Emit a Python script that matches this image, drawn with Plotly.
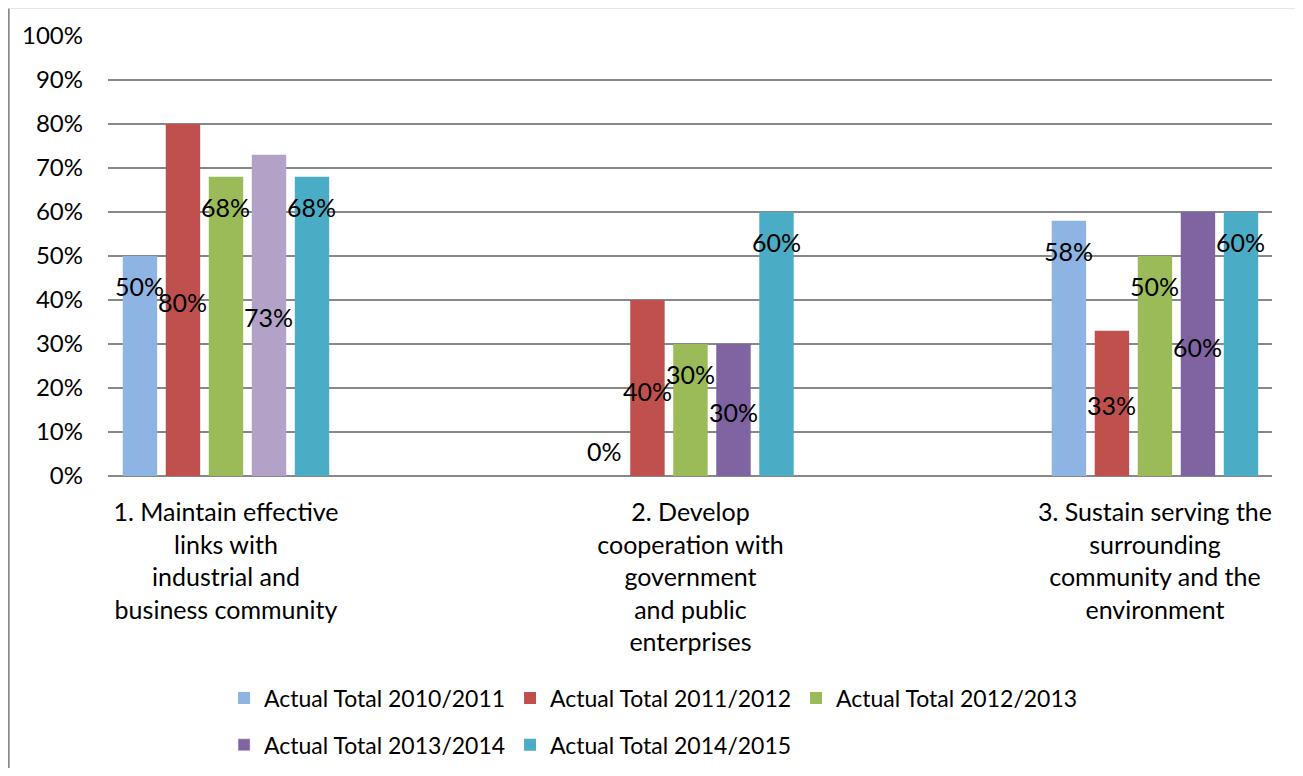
import plotly.graph_objects as go

categories = [
    "1. Maintain effective<br>links with<br>industrial and<br>business community",
    "2. Develop<br>cooperation with<br>government<br>and public<br>enterprises",
    "3. Sustain serving the<br>surrounding<br>community and the<br>environment",
]
series_names = [
    "Actual Total 2010/2011",
    "Actual Total 2011/2012",
    "Actual Total 2012/2013",
    "Actual Total 2013/2014",
    "Actual Total 2014/2015",
]
v_2010_2011 = [0.50, 0.00, 0.58]
v_2011_2012 = [0.80, 0.40, 0.33]
v_2012_2013 = [0.68, 0.30, 0.50]
v_2013_2014 = [0.73, 0.30, 0.60]
v_2014_2015 = [0.68, 0.60, 0.60]
values = [v_2010_2011, v_2011_2012, v_2012_2013, v_2013_2014, v_2014_2015]

# where the (manually placed) data labels sit, in axis units
label_y = [
    [0.432, 0.057, 0.511],
    [0.395, 0.193, 0.161],
    [0.611, 0.232, 0.432],
    [0.361, 0.145, 0.293],
    [0.611, 0.532, 0.532],
]

colors = ["#8EB4E3", "#C0504D", "#9BBB59", "#8064A2", "#4BACC6"]
point_colors = [
    [colors[0]] * 3,
    [colors[1]] * 3,
    [colors[2]] * 3,
    ["#B3A2C7", colors[3], colors[3]],
    [colors[4]] * 3,
]

FONT = "Lato"
FS = 25
LFS = 23

fig = go.Figure()
for i, name in enumerate(series_names):
    fig.add_trace(go.Bar(
        x=categories, y=values[i], name=name,
        marker=dict(color=point_colors[i], line=dict(width=0)),
        offsetgroup=str(i),
        legend="legend" if i < 3 else "legend2",
        showlegend=(i != 3),
        legendrank=1000 + i,
    ))
# legend-only entry for 2013/2014 so its swatch shows the series colour
fig.add_trace(go.Bar(
    x=[None], y=[None], name=series_names[3],
    marker=dict(color=colors[3]), offsetgroup="3",
    legend="legend2", showlegend=True, legendrank=1003,
))

annotations = []
slot_px = 43
for i in range(5):
    for j, c in enumerate(categories):
        annotations.append(dict(
            x=c, y=label_y[i][j], xref="x", yref="y",
            text=f"{round(values[i][j]*100)}%", showarrow=False,
            xshift=(i - 2) * slot_px,
            font=dict(family=FONT, size=FS, color="black"),
        ))

frame = [
    dict(type="line", xref="paper", yref="paper", x0=-0.0855, x1=-0.0855, y0=1.07, y1=-0.8,
         line=dict(color="#898989", width=2.5)),
    dict(type="line", xref="paper", yref="paper", x0=1.0235, x1=1.0235, y0=1.07, y1=-0.8,
         line=dict(color="#898989", width=2.5)),
    dict(type="line", xref="paper", yref="paper", x0=-0.0855, x1=1.0235, y0=1.0625, y1=1.0625,
         line=dict(color="#E6E6E6", width=1)),
]

legend_common = dict(orientation="h", x=0.0997, xanchor="left", yanchor="middle",
                     entrywidth=241, entrywidthmode="pixels",
                     font=dict(family=FONT, size=LFS, color="black"),
                     itemwidth=30, bgcolor="rgba(0,0,0,0)")

fig.update_layout(
    width=1295, height=760,
    margin=dict(l=100, r=31, t=28, b=292, autoexpand=False),
    paper_bgcolor="white", plot_bgcolor="white",
    barmode="group", bargap=0.537, bargroupgap=0.2,
    font=dict(family=FONT, size=FS, color="black"),
    annotations=annotations,
    shapes=frame,
    legend=dict(legend_common, y=-0.5045),
    legend2=dict(legend_common, y=-0.611),
    showlegend=True,
)
fig.update_xaxes(
    range=[-0.254, 2.252], showgrid=False, showline=False, ticks="",
    tickfont=dict(family=FONT, size=FS), ticklabelstandoff=19,
)
fig.update_yaxes(
    range=[0, 1.0], dtick=0.1, tickformat=".0%", showgrid=True,
    gridcolor="#888888", gridwidth=2, zeroline=True, zerolinecolor="#888888", zerolinewidth=2,
    showline=False, ticks="", tickfont=dict(family=FONT, size=24), ticklabelstandoff=24,
)
fig.write_html("out.html")
